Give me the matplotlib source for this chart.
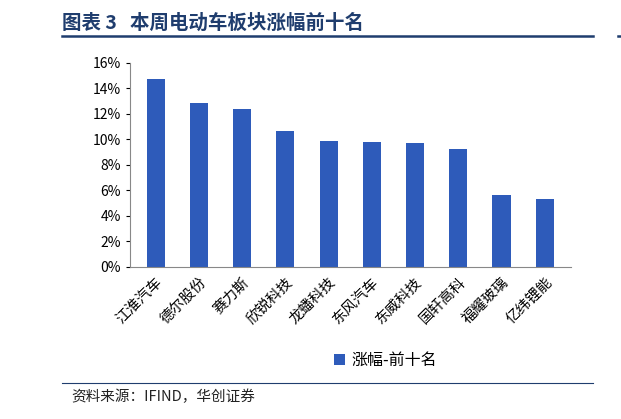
import matplotlib
matplotlib.use("Agg")
import matplotlib.pyplot as plt
from matplotlib.ticker import PercentFormatter
from matplotlib.lines import Line2D

plt.rcParams['font.family'] = ['Noto Sans CJK SC', 'DejaVu Sans']

categories = ["江淮汽车", "德尔股份", "赛力斯", "欣锐科技", "龙蟠科技", "东风汽车", "东威科技", "国轩高科", "福耀玻璃", "亿纬锂能"]
values = [14.7, 12.85, 12.35, 10.65, 9.9, 9.8, 9.75, 9.25, 5.65, 5.3]

fig = plt.figure(figsize=(6.21, 4.19), dpi=100)
ax = fig.add_axes([0.209, 0.363, 0.71, 0.487])
ax.bar(range(len(values)), values, width=0.42, color='#2E5BBA', label='涨幅-前十名')
ax.set_ylim(0, 16)
ax.set_xlim(-0.6, len(values) - 0.4)
ax.set_yticks(range(0, 17, 2))
ax.yaxis.set_major_formatter(PercentFormatter(decimals=0))
ax.set_xticks(range(len(values)))
ax.set_xticklabels(categories, rotation=45, ha='right', rotation_mode='anchor', fontsize=10.5)
ax.tick_params(axis='y', labelsize=10, length=3)
ax.tick_params(axis='x', length=0, pad=6)
for s in ['top', 'right']:
    ax.spines[s].set_visible(False)
ax.spines['left'].set_color('#888888')
ax.spines['bottom'].set_color('#888888')
leg = ax.legend(loc='center', bbox_to_anchor=(0.58, -0.46), frameon=False, fontsize=11.5,
                handlelength=0.7, handleheight=0.7, handletextpad=0.4)

title_color = '#1F3D6E'
fig.text(0.10, 0.945, '图表 3   本周电动车板块涨幅前十名', fontsize=14, fontweight='bold',
         color=title_color, va='center')
fig.add_artist(Line2D([0.10, 0.955], [0.913, 0.913], color=title_color, lw=1.8))
fig.add_artist(Line2D([0.995, 1.0], [0.913, 0.913], color=title_color, lw=1.8))
fig.add_artist(Line2D([0.10, 0.955], [0.086, 0.086], color=title_color, lw=0.8))
fig.text(0.115, 0.052, '资料来源：IFIND，华创证券', fontsize=10.5, style='italic', color='#222222', va='center')

fig.savefig('out.png', dpi=100)
